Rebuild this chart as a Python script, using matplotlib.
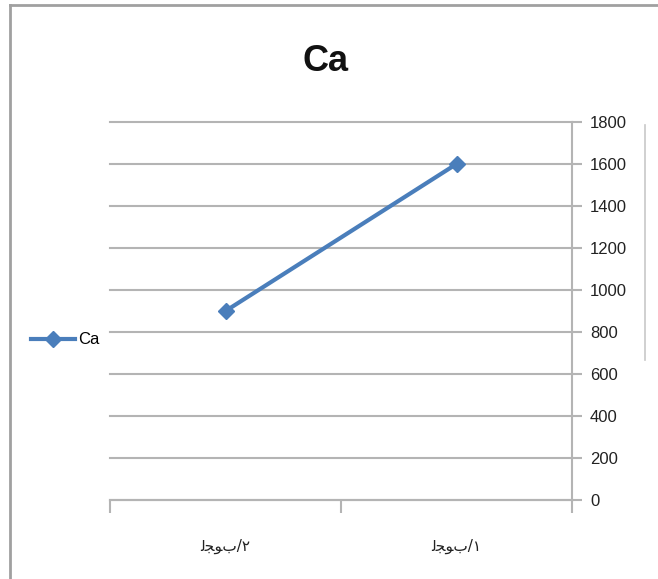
import matplotlib
matplotlib.use("Agg")
import matplotlib.pyplot as plt
from matplotlib.lines import Line2D
import numpy as np

plt.rcParams['font.family'] = ['Liberation Sans', 'DejaVu Sans']

# samples (shown right to left, as in the workbook)
samples = ["\uFEDF\uFEA0\uFEEE\uFE8F/\u0661", "\uFEDF\uFEA0\uFEEE\uFE8F/\u0662"]
ca_values = [1600, 900]
y_ticks = list(range(0, 1801, 200))

BLUE = "#4a7ebb"
GRID = "#b4b4b4"

fig = plt.figure(figsize=(6.58, 5.79), dpi=100)
ax = fig.add_axes([0.1672, 0.1364, 0.7021, 0.6529])

x = np.arange(len(samples))
ax.plot(x, ca_values, color=BLUE, linewidth=3, marker="D", markersize=8,
        label="Ca", zorder=3)

ax.set_xlim(1.5, -0.5)
ax.set_ylim(0, 1800)
ax.set_yticks(y_ticks)
ax.yaxis.tick_right()
ax.yaxis.grid(True, color=GRID, linewidth=1.5)
for gl in ax.get_ygridlines():
    gl.set_clip_on(False)
ax.set_axisbelow(True)

ax.set_xticks(x)
ax.set_xticklabels(samples, fontsize=11, color="#222222",
                   fontfamily="DejaVu Sans")
ax.set_xticks([-0.5, 0.5, 1.5], minor=True)
ax.tick_params(axis="x", which="major", length=0, pad=28)
ax.tick_params(axis="x", which="minor", length=9, width=1.5, color=GRID)
ax.tick_params(axis="y", length=7, width=1.5, color=GRID, labelsize=12,
               labelcolor="#222222", pad=6)

for side in ["top", "left"]:
    ax.spines[side].set_visible(False)
for side in ["right", "bottom"]:
    ax.spines[side].set_color(GRID)
    ax.spines[side].set_linewidth(1.5)

fig.text(0.494, 0.893, "Ca", ha="center", va="center", fontsize=26,
         fontweight="bold", color="#111111")

fig.legend(loc="center left", bbox_to_anchor=(0.025, 0.413), frameon=False,
           fontsize=12, handlelength=2.6, handletextpad=0.2)

# chart frame
fig.add_artist(Line2D([0.0155, 0.0155], [0.0, 0.992], color="#a0a0a0",
                      linewidth=2, transform=fig.transFigure))
fig.add_artist(Line2D([0.0155, 1.0], [0.992, 0.992], color="#a0a0a0",
                      linewidth=2, transform=fig.transFigure))
fig.add_artist(Line2D([0.981, 0.981], [0.378, 0.784], color="#c8c8c8",
                      linewidth=1.2, transform=fig.transFigure))

fig.savefig("out.png", dpi=100)
